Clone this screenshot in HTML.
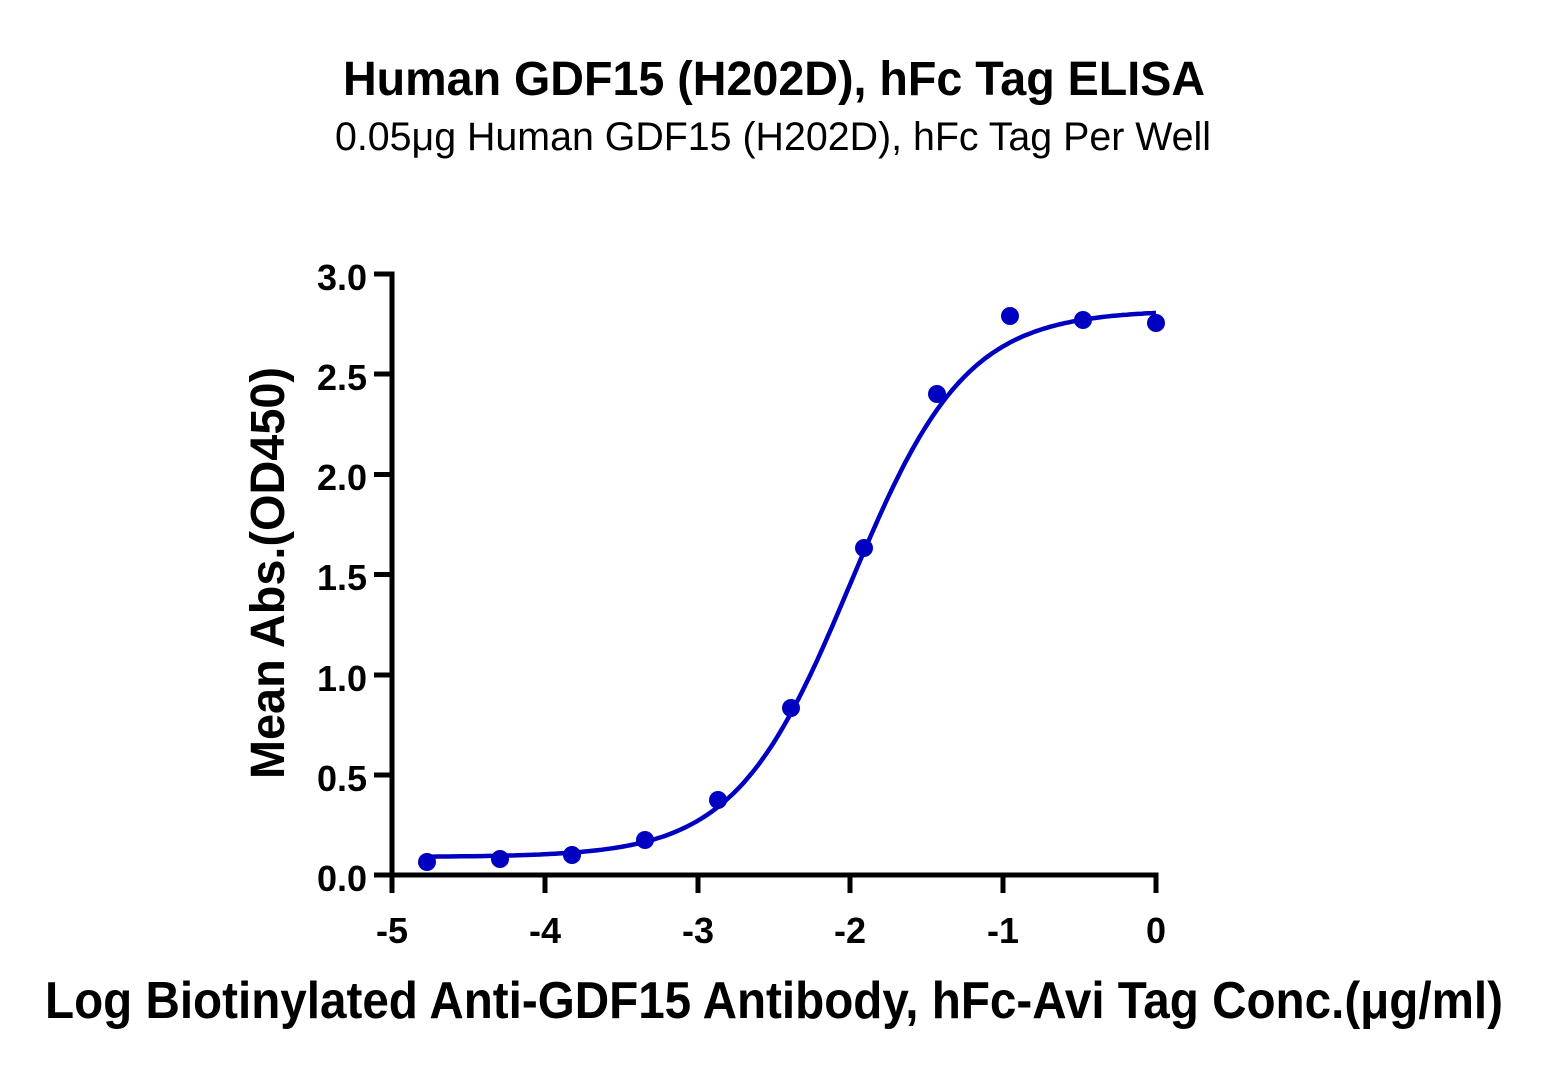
<!DOCTYPE html>
<html><head><meta charset="utf-8"><style>html,body{margin:0;padding:0;background:#fff}svg{display:block}</style></head>
<body>
<svg width="1549" height="1074" viewBox="0 0 1549 1074" xmlns="http://www.w3.org/2000/svg" font-family="'Liberation Sans', sans-serif">
<text x="774" y="95" font-size="48" font-weight="bold" text-anchor="middle" textLength="862" lengthAdjust="spacingAndGlyphs">Human GDF15 (H202D), hFc Tag ELISA</text>
<text x="773" y="150" font-size="40" text-anchor="middle" textLength="876" lengthAdjust="spacingAndGlyphs">0.05μg Human GDF15 (H202D), hFc Tag Per Well</text>
<g stroke="#000" stroke-width="5" fill="none">
<line x1="392" y1="271.5" x2="392" y2="877.5"/>
<line x1="374" y1="875" x2="1158.5" y2="875"/>
<line x1="374" y1="274" x2="392" y2="274"/>
<line x1="374" y1="374" x2="392" y2="374"/>
<line x1="374" y1="474.5" x2="392" y2="474.5"/>
<line x1="374" y1="574.5" x2="392" y2="574.5"/>
<line x1="374" y1="675" x2="392" y2="675"/>
<line x1="374" y1="775" x2="392" y2="775"/>
<line x1="392" y1="875" x2="392" y2="893"/>
<line x1="545" y1="875" x2="545" y2="893"/>
<line x1="698" y1="875" x2="698" y2="893"/>
<line x1="850" y1="875" x2="850" y2="893"/>
<line x1="1003" y1="875" x2="1003" y2="893"/>
<line x1="1156" y1="875" x2="1156" y2="893"/>
</g>
<g font-size="36" font-weight="bold" text-anchor="end">
<text x="367" y="290">3.0</text><text x="367" y="390">2.5</text><text x="367" y="490">2.0</text>
<text x="367" y="590">1.5</text><text x="367" y="691">1.0</text><text x="367" y="791">0.5</text><text x="367" y="891">0.0</text>
</g>
<g font-size="36" font-weight="bold" text-anchor="middle">
<text x="392" y="943">-5</text><text x="545" y="943">-4</text><text x="698" y="943">-3</text>
<text x="850" y="943">-2</text><text x="1003" y="943">-1</text><text x="1156" y="943">0</text>
</g>
<text transform="translate(284,573) rotate(-90)" font-size="48" font-weight="bold" text-anchor="middle" textLength="412" lengthAdjust="spacingAndGlyphs">Mean Abs.(OD450)</text>
<text x="774" y="1018" font-size="52" font-weight="bold" text-anchor="middle" textLength="1458" lengthAdjust="spacingAndGlyphs">Log Biotinylated Anti-GDF15 Antibody, hFc-Avi Tag Conc.(μg/ml)</text>
<path id="curve" fill="none" stroke="#0000c0" stroke-width="4.5"/>
<g fill="#0000c0">
<circle cx="427" cy="862" r="9"/><circle cx="500" cy="859" r="9"/><circle cx="572" cy="855" r="9"/>
<circle cx="645" cy="840" r="9"/><circle cx="718" cy="800" r="9"/><circle cx="791" cy="708" r="9"/>
<circle cx="864" cy="548" r="9"/><circle cx="937" cy="394" r="9"/><circle cx="1010" cy="316" r="9"/>
<circle cx="1083" cy="320" r="9"/><circle cx="1156" cy="323" r="9"/>
</g>
<script>
var d="";for(var i=0;i<=200;i++){var x=-4.77+4.77*i/200;var y=0.09+2.73/(1+Math.pow(10,(-2.0-x)*1.15));
var px=392+(x+5)*152.8,py=875-y*200.3;d+=(i?"L":"M")+px.toFixed(1)+" "+py.toFixed(1);}
document.getElementById("curve").setAttribute("d",d);
</script>
</svg>
</body></html>
